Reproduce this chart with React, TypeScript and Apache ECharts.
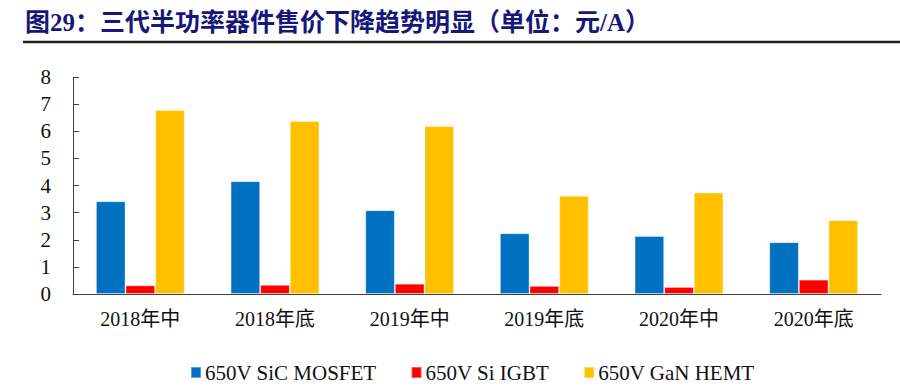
import React, { useEffect, useRef } from "react";
import * as echarts from "echarts";

const titleText = "图29：三代半功率器件售价下降趋势明显（单位：元/A）";
const categories = ["2018年中", "2018年底", "2019年中", "2019年底", "2020年中", "2020年底"];
const sicMosfet = [3.42, 4.16, 3.09, 2.24, 2.14, 1.91];
const siIgbt = [0.32, 0.34, 0.38, 0.3, 0.26, 0.53];
const ganHemt = [6.78, 6.38, 6.19, 3.62, 3.74, 2.72];
const seriesNames = ["650V SiC MOSFET", "650V Si IGBT", "650V GaN HEMT"];
const seriesColors = ["#0070C0", "#FF0000", "#FFC000"];

const FONT = "'Liberation Serif', 'Noto Sans CJK SC', serif";

export default function App() {
  const ref = useRef<HTMLDivElement>(null);
  useEffect(() => {
    if (!ref.current) return;
    const chart = echarts.init(ref.current, undefined, { renderer: "svg" });
    const data = [sicMosfet, siIgbt, ganHemt];
    chart.setOption({
      animation: false,
      backgroundColor: "#ffffff",
      title: {
        text: titleText,
        left: 25,
        top: 10,
        padding: 0,
        textStyle: {
          fontFamily: FONT,
          fontSize: 25,
          fontWeight: "bold",
          color: "#17177A",
        },
      },
      graphic: [
        {
          type: "line",
          shape: { x1: 23, y1: 42, x2: 900, y2: 42 },
          style: { stroke: "#222222", lineWidth: 2.5 },
        },
      ],
      legend: {
        left: 185,
        top: 357,
        itemWidth: 10,
        itemHeight: 11,
        itemGap: 34,
        icon: "rect",
        textStyle: { fontFamily: FONT, fontSize: 21, color: "#111111", padding: [0, 0, 0, -1] },
        data: seriesNames,
      },
      grid: { left: 73, right: 19, top: 77, bottom: 94 },
      xAxis: {
        type: "category",
        data: categories,
        axisLine: { lineStyle: { color: "#404040", width: 1 } },
        axisTick: { inside: true, length: 6, lineStyle: { color: "#404040" } },
        axisLabel: { fontFamily: FONT, fontSize: 20, color: "#111111", margin: 15 },
      },
      yAxis: {
        type: "value",
        min: 0,
        max: 8,
        interval: 1,
        axisLine: { show: true, lineStyle: { color: "#404040", width: 1 } },
        axisTick: { show: true, inside: true, length: 6, lineStyle: { color: "#404040" } },
        splitLine: { show: false },
        axisLabel: { fontFamily: FONT, fontSize: 21, color: "#111111", margin: 22 },
      },
      series: seriesNames.map((name, i) => ({
        name,
        type: "bar",
        data: data[i],
        barGap: "0%",
        barCategoryGap: "34%",
        itemStyle: {
          color: seriesColors[i],
          borderColor: "rgba(255,255,255,0.35)",
          borderWidth: 1,
        },
      })),
    });
    return () => chart.dispose();
  }, []);
  return (
    <div
      ref={ref}
      style={{ position: "absolute", left: 0, top: 0, width: 900, height: 388, background: "#fff" }}
    />
  );
}
